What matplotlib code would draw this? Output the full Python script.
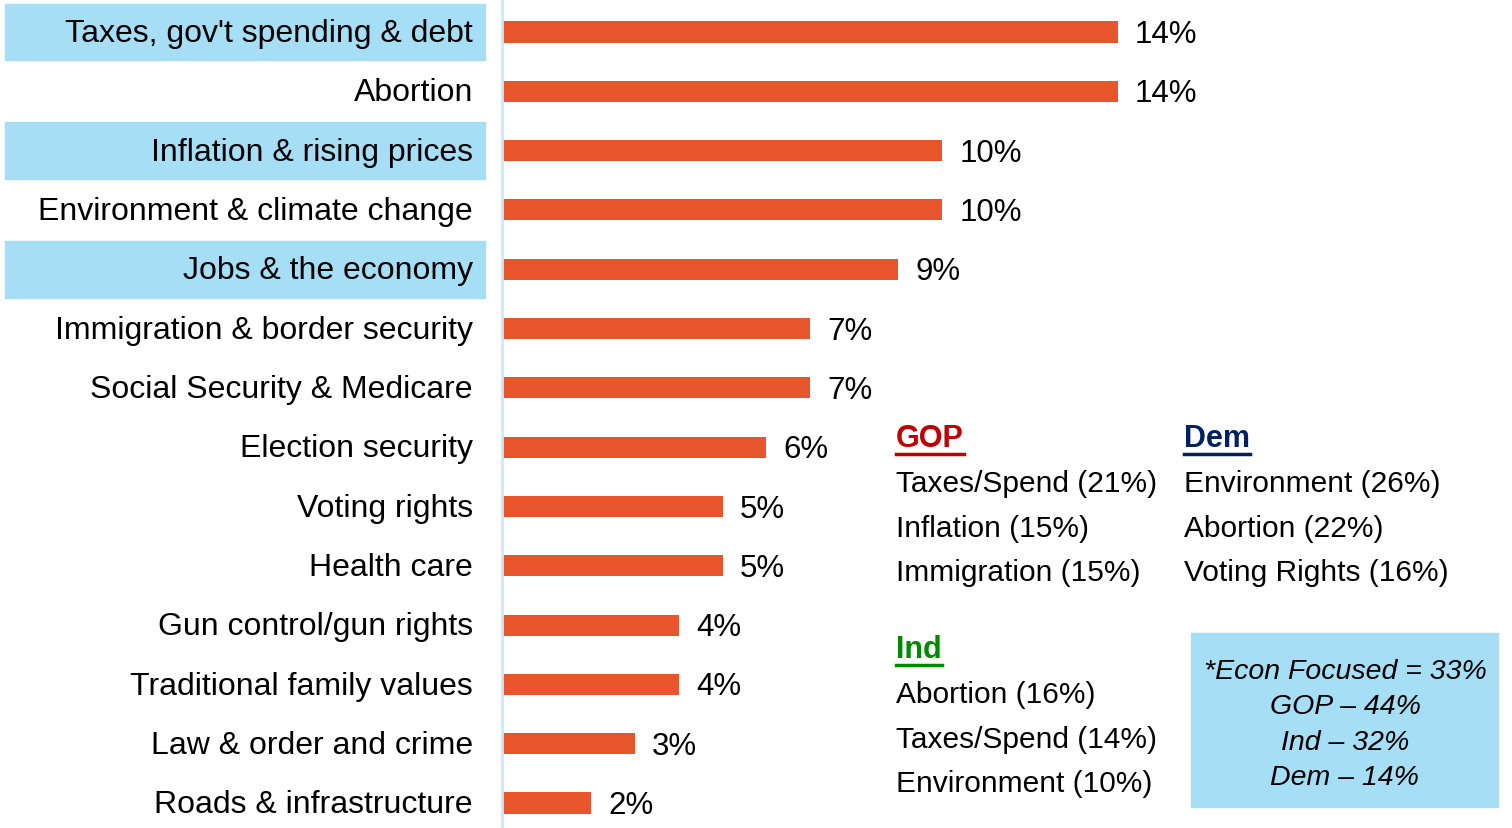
import matplotlib
matplotlib.use("Agg")
import matplotlib.pyplot as plt
from matplotlib.patches import Rectangle
import matplotlib.transforms as mtransforms

plt.rcParams['font.family'] = ['Liberation Sans', 'DejaVu Sans']

issues = ["Taxes, gov't spending & debt", "Abortion", "Inflation & rising prices",
          "Environment & climate change", "Jobs & the economy",
          "Immigration & border security", "Social Security & Medicare",
          "Election security", "Voting rights", "Health care",
          "Gun control/gun rights", "Traditional family values",
          "Law & order and crime", "Roads & infrastructure"]
pct = [14, 14, 10, 10, 9, 7, 7, 6, 5, 5, 4, 4, 3, 2]
econ = [True, False, True, False, True, False, False, False, False, False,
        False, False, False, False]

gop_title = "GOP"
gop_items = ["Taxes/Spend (21%)", "Inflation (15%)", "Immigration (15%)"]
dem_title = "Dem"
dem_items = ["Environment (26%)", "Abortion (22%)", "Voting Rights (16%)"]
ind_title = "Ind"
ind_items = ["Abortion (16%)", "Taxes/Spend (14%)", "Environment (10%)"]
econ_lines = ["*Econ Focused = 33%", "GOP \u2013 44%", "Ind \u2013 32%", "Dem \u2013 14%"]

W, H = 1512, 829
fig = plt.figure(figsize=(W / 100, H / 100), dpi=100)
ax = fig.add_axes([503 / W, 0, 1 - 503 / W, 1])
ax.set_xlim(0, (W - 503) / 43.9)
# row 0 centred at ~33px from top, row 13 at ~804px
pitch = (804 - 33) / 13
ax.set_ylim(13 + (H - 804) / pitch, -33 / pitch)
ax.axis('off')

bar_col = '#E8552B'
hl_col = '#A6DEF6'

ax.barh(range(len(pct)), pct, height=0.355, color=bar_col)
for i, v in enumerate(pct):
    ax.annotate(f"{v}%", (v, i), xytext=(12.5, -1.5), textcoords='offset points',
                va='center', ha='left', fontsize=22.5)

# category labels, econ ones get a blue box
tr = mtransforms.blended_transform_factory(fig.transFigure, ax.transData)
for i, (lab, hl) in enumerate(zip(issues, econ)):
    if hl:
        fig.patches.append(Rectangle((5 / W, i - 0.48), 480 / W, 0.96,
                                     transform=tr, color=hl_col, zorder=0))
    fig.text(473 / W, i + 0.02, lab, transform=tr, ha='right', va='center', fontsize=23)

# axis line
fig.add_artist(plt.Line2D([502 / W, 502 / W], [0, 1], color='#CDE9F9', lw=2))


def party_block(x, y, title, color, items):
    t = fig.text(x / W, 1 - y / H, title, color=color, fontsize=22, fontweight='bold',
                 va='center', ha='left')
    fig.canvas.draw()
    bb = t.get_window_extent()
    fig.add_artist(plt.Line2D([bb.x0 / W, bb.x1 / W], [(bb.y0 - 1) / H, (bb.y0 - 1) / H],
                              color=color, lw=2.5))
    for k, it in enumerate(items):
        fig.text(x / W, 1 - (y + 45 + 44.7 * k) / H, it, fontsize=21.5,
                 va='center', ha='left')


party_block(896, 439, gop_title, '#C00000', gop_items)
party_block(1184, 439, dem_title, '#002060', dem_items)
party_block(896, 650, ind_title, '#008A00', ind_items)

fig.patches.append(Rectangle((1191 / W, 1 - 808 / H), 307 / W, 174 / H,
                             transform=fig.transFigure, color=hl_col, zorder=0))
for k, ln in enumerate(econ_lines):
    fig.text(1345 / W, 1 - (672 + 35.5 * k) / H, ln, fontsize=20.5, style='italic',
             ha='center', va='center')

fig.savefig('out.png', dpi=100)
